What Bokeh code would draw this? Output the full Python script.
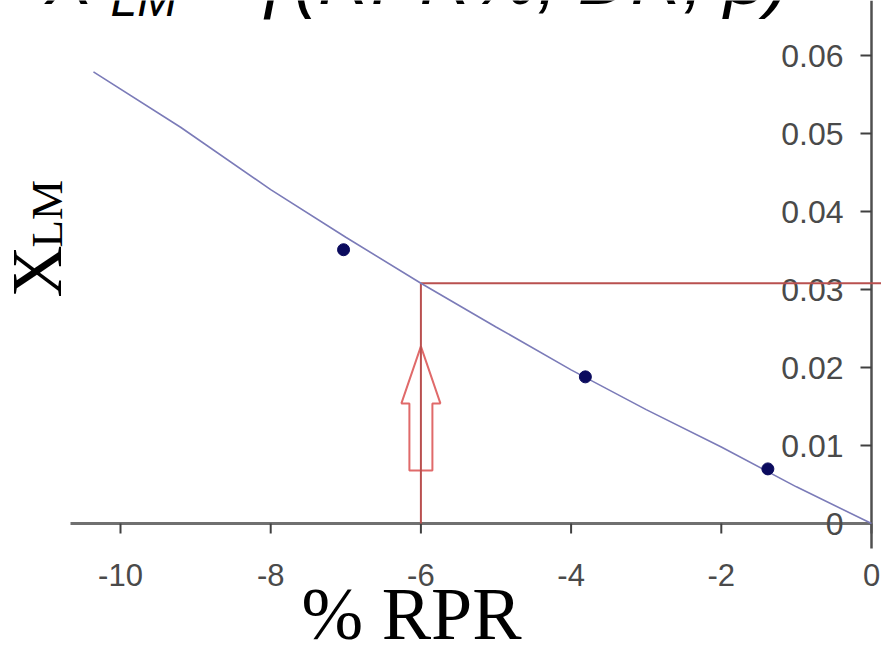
import math
from bokeh.plotting import figure
from bokeh.models import Range1d
from bokeh.embed import file_html
from bokeh.resources import INLINE
from bokeh.core.properties import value

# ---------------- data ----------------
pts_rpr = [-7.03, -3.81, -1.38]
pts_xlm = [0.0351, 0.0188, 0.0070]

fit_rpr = [-10.36, -9.2, -8.0, -7.0, -6.0, -5.0, -4.0, -3.0, -2.0, -1.0, 0.0]
fit_xlm = [0.0579, 0.0508, 0.0428, 0.0367, 0.0308, 0.0252, 0.0197, 0.0146, 0.0098, 0.0047, 0.0]

sel_rpr = -6.0
sel_xlm = 0.0308

arrow_tip = 0.0227
arrow_head = 0.0154
arrow_tail = 0.0068

x_ticks = [-10, -8, -6, -4, -2, 0]
x_tick_labels = ["-10", "-8", "-6", "-4", "-2", "0"]
y_ticks = [0.0, 0.01, 0.02, 0.03, 0.04, 0.05, 0.06]
y_tick_labels = ["0", "0.01", "0.02", "0.03", "0.04", "0.05", "0.06"]

title_main = "= \u0192(RPR%, DR, \u03b2)"
x_label = "% RPR"
y_label_big, y_label_small = "X", "LM"

# ---------------- layout ----------------
W, H = 881, 648
ORIGIN_X, ORIGIN_Y = 871, 523      # canvas pixel of data (0, 0)
PXX, PXY = 75.1, 7800.0            # pixels per data unit

def dx(px):
    return px / PXX

def dy(px):
    return px / PXY

def ax_x(px):      # canvas pixel column -> data x
    return (px - ORIGIN_X) / PXX

def ax_y(py):      # canvas pixel row -> data y
    return (ORIGIN_Y - py) / PXY

def lift(size):    # correction so that the alphabetic baseline lands where wanted
    return -round(0.375 * size)

X0, X1 = ax_x(0), ax_x(W)
Y0, Y1 = ax_y(H), ax_y(0)

p = figure(width=W, height=H, x_range=Range1d(X0, X1), y_range=Range1d(Y0, Y1),
           output_backend="svg", toolbar_location=None,
           x_axis_location=None, y_axis_location=None,
           min_border_left=0, min_border_right=0, min_border_top=0, min_border_bottom=0)
p.outline_line_color = None
p.xgrid.visible = False
p.ygrid.visible = False
p.background_fill_color = "white"
p.border_fill_color = "white"

TICK_FONT = value("Liberation Sans")
TICK_COLOR = "#4a4a4a"

# ---- x axis (line at y = 0) ----
x_axis_start = ax_x(70)
p.segment(x0=[x_axis_start], y0=[0], x1=[0], y1=[0], line_color="#707070", line_width=3)
p.segment(x0=x_ticks, y0=[0] * len(x_ticks), x1=x_ticks, y1=[-dy(10)] * len(x_ticks),
          line_color="#404040", line_width=2)
p.text(x=x_ticks, y=[0] * len(x_ticks), text=x_tick_labels, y_offset=51,
       text_align="center", text_baseline="middle",
       text_font=TICK_FONT, text_font_size="31px", text_color=TICK_COLOR)

# ---- y axis (line at x = 0, labels on its left) ----
p.segment(x0=[0], y0=[-dy(25)], x1=[0], y1=[Y1], line_color="#505050", line_width=2.5)
yt = y_ticks[1:]
p.segment(x0=[0] * len(yt), y0=yt, x1=[-dx(11)] * len(yt), y1=yt,
          line_color="#404040", line_width=2)
p.text(x=[0] * len(y_ticks), y=y_ticks, text=y_tick_labels, x_offset=-28,
       text_align="right", text_baseline="middle",
       text_font=TICK_FONT, text_font_size="32px", text_color=TICK_COLOR)

# ---- red selection guides + hollow arrow ----
hw, sw = dx(19.5), dx(11.5)
axs = [sel_rpr, sel_rpr + hw, sel_rpr + sw, sel_rpr + sw, sel_rpr - sw, sel_rpr - sw, sel_rpr - hw]
ays = [arrow_tip, arrow_head, arrow_head, arrow_tail, arrow_tail, arrow_head, arrow_head]
p.patch(axs, ays, fill_color="white", line_color="#e06a6a", line_width=2)
p.line([sel_rpr, X1], [sel_xlm, sel_xlm], line_color="#b9504f", line_width=2)
p.line([sel_rpr, sel_rpr], [0, sel_xlm], line_color="#b9504f", line_width=2)

# ---- trend line and points ----
p.line(fit_rpr, fit_xlm, line_color="#7b7bb8", line_width=1.6)
p.scatter(pts_rpr, pts_xlm, marker="circle", size=12, fill_color="#0b0b5e", line_color="#0b0b5e")

# ---- axis titles ----
SERIF = value("Liberation Serif")
p.text(x=[ax_x(411)], y=[ax_y(641)], text=[x_label], y_offset=lift(74), text_align="center",
       text_baseline="alphabetic", text_font=SERIF, text_font_size="74px", text_color="black")
p.text(x=[ax_x(63)], y=[ax_y(297)], text=[y_label_big], angle=math.pi / 2, x_offset=lift(72),
       text_align="left", text_baseline="alphabetic", text_font=SERIF,
       text_font_size="72px", text_color="black")
p.text(x=[ax_x(63)], y=[ax_y(247)], text=[y_label_small], angle=math.pi / 2, x_offset=lift(45),
       text_align="left", text_baseline="alphabetic", text_font=SERIF,
       text_font_size="45px", text_color="black")

# ---- formula title, only its lower part is inside the picture ----
SANS = value("Liberation Sans")
ITAL = value("italic")
p.text(x=[ax_x(45)], y=[ax_y(5)], text=[y_label_big], y_offset=lift(72), text_align="left",
       text_baseline="alphabetic", text_font=SANS, text_font_style=ITAL,
       text_font_size="72px", text_color="black")
p.text(x=[ax_x(110)], y=[ax_y(17)], text=[y_label_small], y_offset=lift(48), text_align="left",
       text_baseline="alphabetic", text_font=SANS, text_font_style=ITAL,
       text_font_size="48px", text_color="black")
p.text(x=[ax_x(190)], y=[ax_y(5)], text=[title_main], y_offset=lift(73), text_align="left",
       text_baseline="alphabetic", text_font=SANS, text_font_style=ITAL,
       text_font_size="73px", text_color="black")

open("out.html", "w").write(file_html(p, INLINE))
